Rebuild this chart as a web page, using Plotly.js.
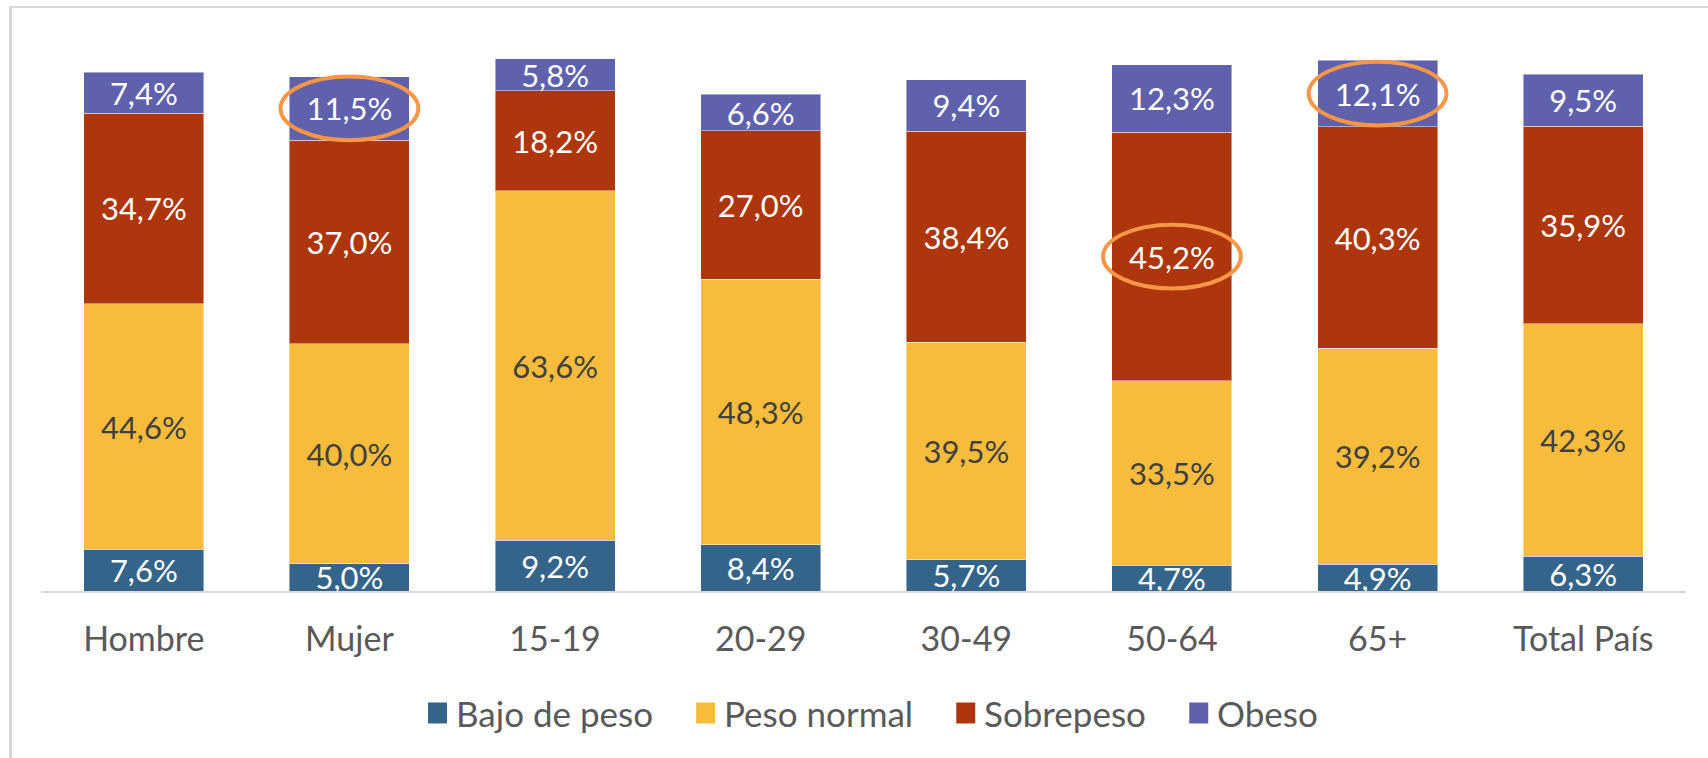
<!DOCTYPE html>
<html><head><meta charset="utf-8">
<script src="https://cdn.plot.ly/plotly-3.0.1.min.js"></script>
<style>
html,body{margin:0;padding:0;background:#fff}
#wrap{position:relative;width:1708px;height:758px;overflow:hidden}
#chart{width:1708px;height:758px}
#frame{position:absolute;left:9px;top:6px;right:-10px;bottom:-10px;border-left:3px solid #d9d9d9;border-top:2px solid #d9d9d9;pointer-events:none}
</style>
</head><body>
<div id="wrap"><div id="chart"></div><div id="frame"></div></div>
<script>
// ---- data ----
const categories = ['Hombre','Mujer','15-19','20-29','30-49','50-64','65+','Total País'];
const bajoDePeso = [7.6, 5.0, 9.2, 8.4, 5.7, 4.7, 4.9, 6.3];
const pesoNormal = [44.6, 40.0, 63.6, 48.3, 39.5, 33.5, 39.2, 42.3];
const sobrepeso  = [34.7, 37.0, 18.2, 27.0, 38.4, 45.2, 40.3, 35.9];
const obeso      = [7.4, 11.5, 5.8, 6.6, 9.4, 12.3, 12.1, 9.5];
const seriesNames = ['Bajo de peso','Peso normal','Sobrepeso','Obeso'];
const highlighted = [['Mujer','Obeso'], ['50-64','Sobrepeso'], ['65+','Obeso']];

// ---- styles / geometry ----
const FONT = 'Lato, "Open Sans", sans-serif';
const colors = ['#34648A','#F7BC3B','#AE360C','#5F61AD'];
const labelColors = ['#ffffff','#404040','#ffffff','#ffffff'];
const seriesValues = [bajoDePeso, pesoNormal, sobrepeso, obeso];
const W = 1708, H = 758;
const M = {l: 41, r: 22, t: 41, b: 167};
const plotW = W - M.l - M.r, plotH = H - M.t - M.b;
const toPaperX = px => (px - M.l) / plotW;
const toPaperY = py => (H - M.b - py) / plotH;

const traces = seriesValues.map((vals, i) => ({
  type: 'bar',
  name: seriesNames[i],
  x: categories,
  y: vals,
  marker: {color: colors[i], line: {color: 'rgba(255,255,255,0.45)', width: 1}},
  texttemplate: '%{y:.1f}%',
  textposition: 'inside',
  insidetextanchor: 'middle',
  constraintext: 'none',
  textangle: 0,
  insidetextfont: {family: FONT, size: 31, color: labelColors[i]},
  hoverinfo: 'x+y+name',
  showlegend: false
}));

// highlight ellipses centred on the segment derived from data
const shapes = highlighted.map(([cat, ser]) => {
  const ci = categories.indexOf(cat);
  const si = seriesNames.indexOf(ser);
  let base = 0;
  for (let k = 0; k < si; k++) base += seriesValues[k][ci];
  const mid = base + seriesValues[si][ci] / 2;
  return {type: 'circle', xref: 'x', yref: 'y',
    x0: ci - 0.335, x1: ci + 0.335, y0: mid - 5.8, y1: mid + 5.8,
    line: {color: '#F79646', width: 4}, fillcolor: 'rgba(0,0,0,0)', layer: 'above'};
});

// custom legend (large square swatches like the original)
const legendFont = 35;
const ctx = document.createElement('canvas').getContext('2d');
ctx.font = legendFont + 'px Lato';
const sq = 19, sqGap = 9;
const legendLeft = 428, legendRight = 1318, legendCy = 713;
const textW = seriesNames.map(n => ctx.measureText(n).width);
const used = textW.reduce((a, w) => a + sq + sqGap + w, 0);
const itemGap = (legendRight - legendLeft - used) / (seriesNames.length - 1);
const annotations = [];
let cx = legendLeft;
seriesNames.forEach((n, i) => {
  shapes.push({type: 'rect', xref: 'paper', yref: 'paper',
    x0: toPaperX(cx), x1: toPaperX(cx + sq),
    y0: toPaperY(legendCy + 10.5), y1: toPaperY(legendCy - 10.5),
    fillcolor: colors[i], line: {width: 0}, layer: 'above'});
  annotations.push({xref: 'paper', yref: 'paper', x: toPaperX(cx + sq + sqGap - 2), y: toPaperY(legendCy),
    xanchor: 'left', yanchor: 'middle', showarrow: false, text: n,
    font: {family: FONT, size: legendFont, color: '#595959'}});
  cx += sq + sqGap + textW[i] + itemGap;
});

const layout = {
  width: W, height: H,
  margin: {l: M.l, r: M.r, t: M.t, b: M.b, pad: 0},
  paper_bgcolor: '#ffffff', plot_bgcolor: '#ffffff',
  barmode: 'stack', bargap: 0.416,
  separators: ',.',
  showlegend: false,
  xaxis: {type: 'category', showline: true, linecolor: '#d9d9d9', linewidth: 2,
    ticks: '', showgrid: false, zeroline: false, ticklabelstandoff: 17,
    tickfont: {family: FONT, size: 34, color: '#595959'}},
  yaxis: {range: [0, 100], visible: false, showgrid: false, zeroline: false, fixedrange: true},
  shapes: shapes,
  annotations: annotations
};

Plotly.newPlot('chart', traces, layout, {displayModeBar: false, staticPlot: true});
</script>
</body></html>
